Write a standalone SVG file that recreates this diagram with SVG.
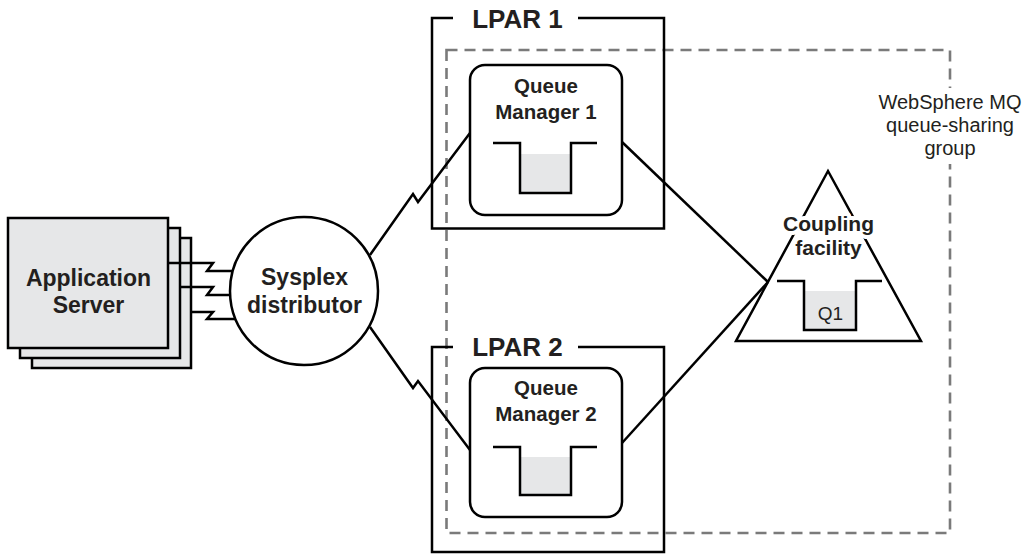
<svg xmlns="http://www.w3.org/2000/svg" width="1027" height="556" viewBox="0 0 1027 556">
  <style>
    .ln { fill: none; stroke: #000; stroke-width: 2.5; stroke-linejoin: miter; }
    .box { fill: #fff; stroke: #000; stroke-width: 2.5; }
    .srv { fill: #e6e7e8; stroke: #000; stroke-width: 2.5; }
    .q { fill: #e6e7e8; stroke: none; }
    .dash { fill: none; stroke: #7a7a7a; stroke-width: 2.6; stroke-dasharray: 11 7; }
    .t { font-family: "Liberation Sans", Arial, Helvetica, sans-serif; fill: #231f20; text-anchor: middle; }
    .b { font-weight: bold; }
    .halo { stroke: #fff; stroke-width: 8; stroke-linejoin: round; paint-order: stroke; }
  </style>

  <g id="qsg">
    <rect class="dash" x="446.5" y="50" width="503.5" height="483"/>
    <rect x="870" y="88" width="157" height="76" fill="#fff"/>
    <text class="t" x="950" y="109" font-size="20">WebSphere MQ</text>
    <text class="t" x="950" y="132" font-size="20">queue-sharing</text>
    <text class="t" x="950" y="155" font-size="20">group</text>
  </g>

  <g id="lpar1">
    <path class="ln" d="M453,18 H432 V228.5 H664 V18 H578"/>
    <text class="t b" x="517.5" y="28" font-size="26">LPAR 1</text>
  </g>

  <g id="lpar2">
    <path class="ln" d="M453,347 H432 V552 H664 V347 H578"/>
    <text class="t b" x="517.5" y="356" font-size="26">LPAR 2</text>
  </g>

  <g id="appserver">
    <rect class="srv" x="32" y="238" width="159" height="130"/>
    <rect class="srv" x="20" y="228" width="160" height="130"/>
    <rect class="srv" x="8" y="218" width="160" height="130"/>
    <text class="t b" x="88.5" y="286" font-size="23">Application</text>
    <text class="t b" x="88.5" y="313" font-size="23">Server</text>
  </g>

  <g id="sysplex">
    <circle class="box" cx="304" cy="291" r="74"/>
    <text class="t b" x="304.5" y="285" font-size="23">Sysplex</text>
    <text class="t b" x="304.5" y="313" font-size="23">distributor</text>
  </g>

  <g id="qm1">
    <rect class="box" x="470" y="65" width="152" height="150" rx="15" ry="15"/>
    <text class="t b" x="546" y="93" font-size="20.5">Queue</text>
    <text class="t b" x="546" y="119" font-size="20.5">Manager 1</text>
    <rect class="q" x="520" y="154" width="51" height="39"/>
    <path class="ln" d="M493,143 H520 V193 H571 V143 H597"/>
  </g>

  <g id="qm2">
    <rect class="box" x="470" y="368" width="152" height="149" rx="15" ry="15"/>
    <text class="t b" x="546" y="395" font-size="20.5">Queue</text>
    <text class="t b" x="546" y="421" font-size="20.5">Manager 2</text>
    <rect class="q" x="520" y="457" width="51" height="38"/>
    <path class="ln" d="M493,447 H520 V495 H571 V447 H597"/>
  </g>

  <g id="connectors">
    <path class="ln" d="M168,263 H213 L207,271 H233"/>
    <path class="ln" d="M180,287 H213 L207,295 H230"/>
    <path class="ln" d="M191,312 H213 L207,319 H236"/>
    <path class="ln" d="M370,255 L413,194 L418,202 L470,133"/>
    <path class="ln" d="M370,327 L413,388 L418,381 L470,450"/>
    <path class="ln" d="M622,142 L768,282"/>
    <path class="ln" d="M622,443 L768,282"/>
  </g>

  <g id="coupling">
    <path class="ln" d="M828,171 L921,341 H736 Z"/>
    <text class="t b halo" x="828.5" y="231" font-size="21">Coupling</text>
    <text class="t b halo" x="828.5" y="255" font-size="21">facility</text>
    <rect class="q" x="804" y="291" width="52" height="39"/>
    <path class="ln" d="M777,281 H804 V330 H856 V281 H882"/>
    <text class="t" x="830.5" y="320" font-size="19">Q1</text>
  </g>
</svg>
